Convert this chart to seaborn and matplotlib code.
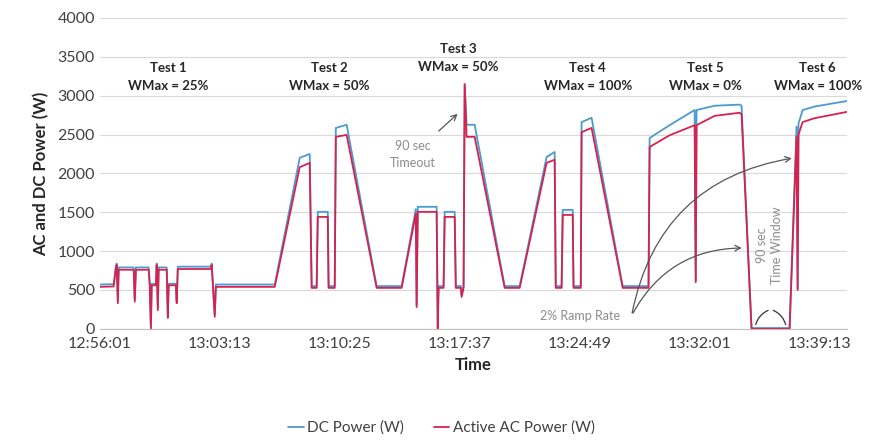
import pandas as pd
import matplotlib.pyplot as plt
import seaborn as sns

# segundos desde el inicio del ensayo (12:56:01)
segundos = [0, 50, 58, 61, 65, 68, 122, 126, 130, 176, 180, 184, 187, 202, 205, 209, 212,
            241, 245, 248, 274, 277, 281, 400, 403, 414, 418, 630, 720, 756, 763, 781, 785,
            821, 824, 846, 850, 889, 997, 1087, 1138, 1141, 1145, 1213, 1217, 1220, 1238,
            1242, 1278, 1282, 1300, 1303, 1310, 1314, 1321, 1350, 1458, 1512, 1609, 1638,
            1642, 1663, 1667, 1703, 1706, 1732, 1735, 1771, 1883, 1976, 1980, 2052, 2142,
            2146, 2149, 2214, 2304, 2311, 2347, 2484, 2509, 2513, 2516, 2531, 2574, 2689]

dc_power = [570, 575, 800, 840, 360, 790, 790, 380, 790, 790, 580, 20, 580, 580, 840, 270, 790,
            790, 170, 580, 580, 360, 800, 800, 840, 185, 570, 570, 2200, 2250, 550, 550, 1505,
            1505, 550, 550, 2585, 2625, 550, 550, 1540, 300, 1570, 1570, 20, 550, 550,
            1505, 1505, 550, 550, 430, 550, 3140, 2625, 2625, 550, 550, 2210, 2275,
            550, 550, 1530, 1530, 550, 550, 2660, 2715, 550, 550, 2455, 2620, 2815,
            620, 2815, 2870, 2885, 2870, 10, 10, 2600, 520, 2640, 2815, 2860, 2930]

ac_power = [540, 545, 780, 820, 330, 760, 760, 350, 760, 760, 560, 0, 560, 560, 820, 240, 760,
            760, 140, 560, 560, 330, 770, 770, 820, 155, 540, 540, 2080, 2135, 527, 527, 1440,
            1440, 527, 527, 2470, 2495, 527, 527, 1480, 280, 1505, 1505, 0, 527, 527,
            1440, 1440, 527, 527, 410, 527, 3150, 2470, 2470, 527, 527, 2135, 2175,
            527, 527, 1465, 1465, 527, 527, 2530, 2585, 527, 527, 2340, 2490, 2620,
            600, 2620, 2740, 2780, 2760, 0, 0, 2470, 500, 2500, 2660, 2710, 2790]

etiquetas_tiempo = ["12:56:01", "13:03:13", "13:10:25", "13:17:37", "13:24:49", "13:32:01", "13:39:13"]

tests = ["Test 1\nWMax = 25%", "Test 2\nWMax = 50%", "Test 3\nWMax = 50%",
         "Test 4\nWMax = 100%", "Test 5\nWMax = 0%", "Test 6\nWMax = 100%"]
tests_seg = [245, 828, 1292, 1757, 2182, 2585]
tests_y = [3241, 3241, 3485, 3241, 3241, 3241]

inicio = pd.Timestamp("2000-01-01 12:56:01")
def t(s):
    return inicio + pd.Timedelta(seconds=s)

tiempo = [t(s) for s in segundos]
df = pd.DataFrame({
    "Time": tiempo * 2,
    "Power": dc_power + ac_power,
    "Serie": ["DC Power (W)"] * len(tiempo) + ["Active AC Power (W)"] * len(tiempo),
})

sns.set_style("white")
plt.rcParams['font.family'] = ['Lato', 'DejaVu Sans']

fig = plt.figure(figsize=(8.83, 4.48), dpi=100)
ax = fig.add_axes([0.113, 0.266, 0.846, 0.694])

colores = {"DC Power (W)": "#4a9bd0", "Active AC Power (W)": "#d6224f"}
sns.lineplot(data=df, x="Time", y="Power", hue="Serie", palette=colores,
             estimator=None, sort=False, linewidth=1.3, ax=ax)

ax.set_ylim(0, 4000)
ax.set_yticks(range(0, 4001, 500))
ax.set_xlim(t(0), t(2690))
ticks = [pd.Timestamp("2000-01-01 " + e) for e in etiquetas_tiempo]
ax.set_xticks(ticks)
ax.set_xticklabels(etiquetas_tiempo)
ax.tick_params(axis='both', labelsize=11.5, colors='#404040', length=0)
ax.tick_params(axis='x', pad=6)
ax.grid(axis='y', color='#d9d9d9', linewidth=0.8)
for lado in ['top', 'right', 'left']:
    ax.spines[lado].set_visible(False)
ax.spines['bottom'].set_color('#bfbfbf')

ax.set_xlabel("Time", fontsize=12, fontweight='bold', labelpad=4)
ax.set_ylabel("AC and DC Power (W)", fontsize=12, fontweight='bold', labelpad=6)

# etiquetas de cada test
for txt, s, y in zip(tests, tests_seg, tests_y):
    ax.text(t(s), y, txt, ha='center', va='center', fontsize=9.5, fontweight='bold',
            linespacing=1.6, color='#262626')

gris = '#8c8c8c'
ax.text(t(1127), 2238, "90 sec\nTimeout", ha='center', va='center', fontsize=9,
        color=gris, linespacing=1.5)
ax.annotate("", xy=(t(1296), 2790), xytext=(t(1213), 2520),
            arrowprops=dict(arrowstyle='->', color='#555555', lw=0.9))

ax.text(t(1728), 167, "2% Ramp Rate", ha='center', va='center', fontsize=9, color=gris)
ax.annotate("", xy=(t(2502), 2200), xytext=(t(1915), 170),
            arrowprops=dict(arrowstyle='->', color='#555555', lw=0.9,
                            connectionstyle='arc3,rad=-0.35'))
ax.annotate("", xy=(t(2322), 1040), xytext=(t(1915), 170),
            arrowprops=dict(arrowstyle='->', color='#555555', lw=0.9,
                            connectionstyle='arc3,rad=-0.3'))

ax.text(t(2412), 1080, "90 sec\nTime Window", ha='center', va='center', fontsize=9,
        color=gris, rotation=90, linespacing=1.3)
# llave bajo la ventana de 90 s
ax.annotate("", xy=(t(2416), 250), xytext=(t(2360), 20),
            arrowprops=dict(arrowstyle='-', color='#333333', lw=0.9,
                            connectionstyle='arc3,rad=-0.3'))
ax.annotate("", xy=(t(2416), 250), xytext=(t(2472), 20),
            arrowprops=dict(arrowstyle='-', color='#333333', lw=0.9,
                            connectionstyle='arc3,rad=0.3'))

handles, labels = ax.get_legend_handles_labels()
ax.legend_.remove()
fig.legend(handles, labels, loc='center', bbox_to_anchor=(0.5, 0.045), ncol=2,
           frameon=False, fontsize=11, handlelength=1.0, handletextpad=0.2,
           columnspacing=2.0, labelcolor='#404040')

plt.savefig("out.png", dpi=100)
